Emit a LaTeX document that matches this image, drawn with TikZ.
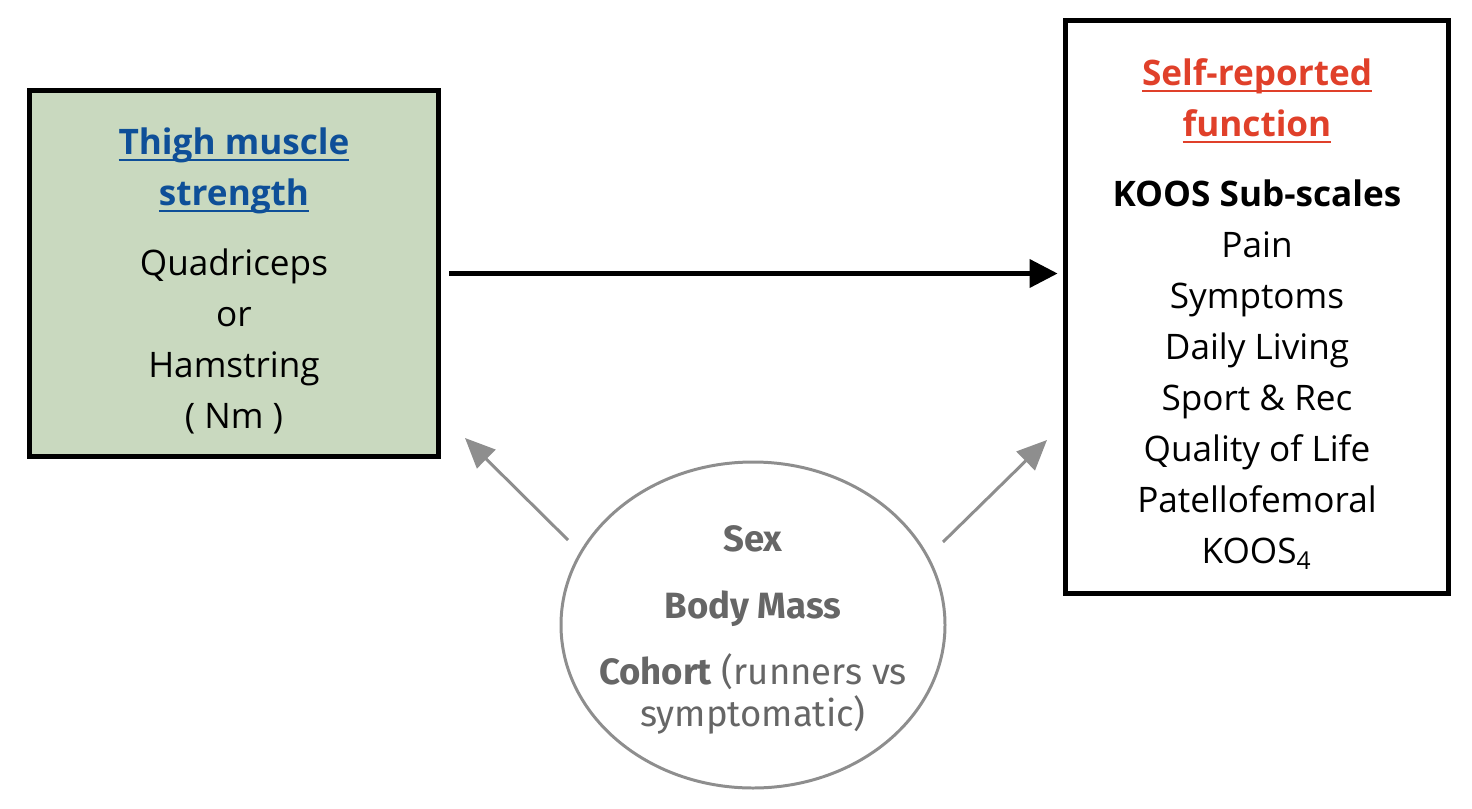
\documentclass[tikz,border=0pt]{standalone}
\usepackage{fontspec}
\setmainfont{Open Sans}
\newfontfamily\covfont{Fira Sans}
\usepackage{tikz}
\usetikzlibrary{arrows.meta, positioning}

\definecolor{thighgreen}{HTML}{C9D9BF}
\definecolor{titleblue}{HTML}{0E4F98}
\definecolor{titlered}{HTML}{E0402A}
\definecolor{covgray}{HTML}{8E8E8E}
\definecolor{covtext}{HTML}{666666}

% underline just below the baseline
\newcommand{\titleul}[1]{\setbox0\hbox{#1}\rlap{\rule[-1.7pt]{\wd0}{0.55pt}}\box0}
\newcommand{\hdblue}[1]{\textcolor{titleblue}{\bfseries\titleul{#1}}}
\newcommand{\hdred}[1]{\textcolor{titlered}{\bfseries\titleul{#1}}}

\begin{document}
\begin{tikzpicture}[auto, >=Triangle, thick]
        % Estilos
        \tikzstyle{box} = [draw, rectangle, line width=1.4pt]
        \tikzstyle{boxtext} = [align=center, font=\fontsize{10}{14.5}\selectfont]
        \tikzstyle{covariate} = [align=center, text=covtext, font=\covfont\fontsize{10.4}{12}\selectfont]
        \tikzstyle{mainarrow} = [line width=1.15pt, -{Triangle[length=0.28cm, width=0.28cm]}]
        \tikzstyle{adjust} = [draw=covgray, line width=0.85pt, -{Triangle[length=0.3cm, width=0.26cm]}]

        \useasboundingbox (0,0) rectangle (14.72,-8.08);

        % Nodes
        \node at (2.34,-2.735) [box, fill=thighgreen, minimum width=4.09cm, minimum height=3.66cm] (thigh) {};
        \node [box, on grid, below right=0.335cm and 10.23cm of thigh, minimum width=3.83cm, minimum height=5.73cm] (koos) {};
        \node [on grid, below right=3.515cm and 5.19cm of thigh, minimum width=3.84cm, minimum height=3.26cm] (covar) {};
        \node [boxtext, yshift=-0.075cm] at (thigh.center) (thighText) {\hdblue{Thigh muscle}\\ \hdblue{strength}\\[5.4pt] Quadriceps\\ or\\ Hamstring\\ ( Nm )};
        \node [boxtext, yshift=-0.07cm] at (koos.center) (koosText) {\hdred{Self-reported}\\ \hdred{function}\\[5.4pt] \textbf{KOOS Sub-scales}\\ Pain\\ Symptoms\\ Daily Living\\ Sport \& Rec\\ Quality of Life\\ Patellofemoral\\ KOOS\textsubscript{4}};
        \node [covariate, yshift=-0.05cm] at (covar.center) (covarText) {\textbf{Sex}\\[6.8pt] \textbf{Body Mass}\\[6.8pt] \textbf{Cohort} (runners vs\\ symptomatic)};
        \node at (5.68,-5.40) [coordinate] (tailL){};
        \node at (4.65,-4.38) [coordinate] (tipL){};
        \node at (9.43,-5.42) [coordinate] (tailR){};
        \node at (10.47,-4.40) [coordinate] (tipR){};

        % Lines
        \draw [covgray, line width=0.85pt] (covar.center) ellipse [x radius=1.92cm, y radius=1.63cm];
        \draw [mainarrow, shorten <=0.085cm, shorten >=0.055cm] (thigh.east) -- (thigh.east -| koos.west);
        \draw [adjust] (tailL) -- (tipL);
        \draw [adjust] (tailR) -- (tipR);

\end{tikzpicture}
\end{document}
